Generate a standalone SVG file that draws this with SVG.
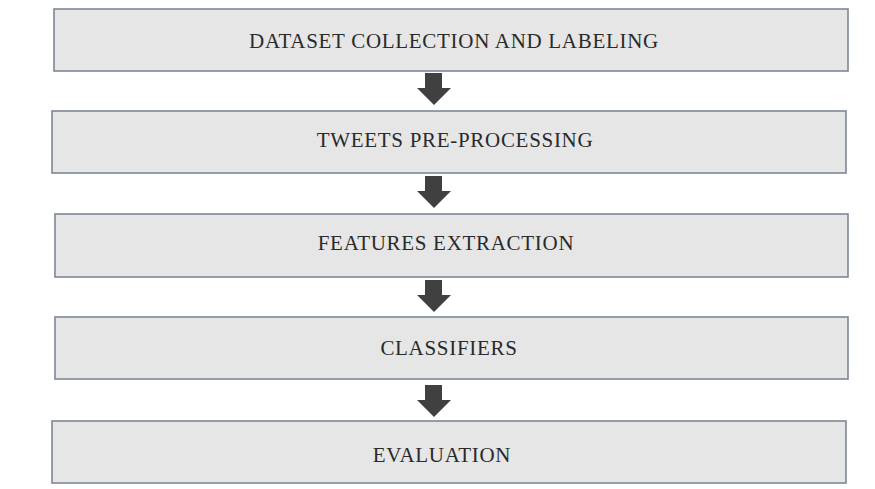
<svg xmlns="http://www.w3.org/2000/svg" xmlns:xlink="http://www.w3.org/1999/xlink" width="875" height="489" viewBox="0 0 875 489">
<style>
.box{fill:#e6e6e6;stroke:#7d8797;stroke-width:1.6}
.lbl{font-family:"Liberation Serif","Times New Roman",serif;font-size:21px;letter-spacing:0.7px;fill:#2a2a2a;text-anchor:middle}
.arr{fill:#404040}
</style>
<defs>
<path id="arrow" d="M-9,0 L8,0 L8,15 L17,15 L0,32 L-17,15 L-9,15 Z"/>
</defs>
<rect width="875" height="489" fill="#fff"/>
<g id="connectors" class="arr">
<use xlink:href="#arrow" x="434" y="73"/>
<use xlink:href="#arrow" x="434" y="176"/>
<use xlink:href="#arrow" x="434" y="280"/>
<use xlink:href="#arrow" x="434" y="385"/>
</g>
<g id="n1"><rect class="box" x="54" y="9" width="794" height="62"/><text class="lbl" x="454" y="48">DATASET COLLECTION AND LABELING</text></g>
<g id="n2"><rect class="box" x="52" y="111" width="794" height="62"/><text class="lbl" x="455" y="147">TWEETS PRE-PROCESSING</text></g>
<g id="n3"><rect class="box" x="55" y="214" width="793" height="63"/><text class="lbl" x="446" y="250">FEATURES EXTRACTION</text></g>
<g id="n4"><rect class="box" x="55" y="317" width="793" height="62"/><text class="lbl" x="449" y="355">CLASSIFIERS</text></g>
<g id="n5"><rect class="box" x="52" y="421" width="794" height="62"/><text class="lbl" x="442" y="462">EVALUATION</text></g>
</svg>
